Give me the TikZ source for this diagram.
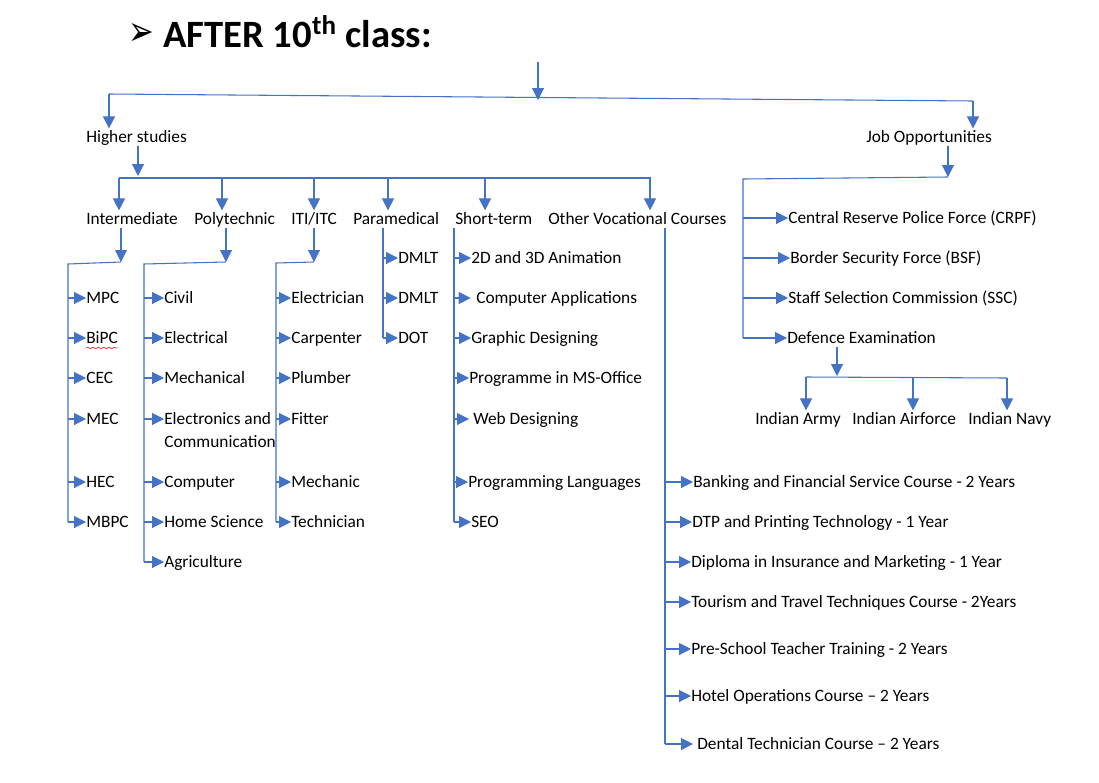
\documentclass[tikz,border=0pt]{standalone}
\usepackage{fontspec}
\setmainfont{Carlito}
\newfontfamily\symfont{DejaVu Sans}
\usepackage{xcolor}
\usetikzlibrary{arrows.meta, decorations.pathmorphing}
\definecolor{wordblue}{HTML}{4472C4}

\begin{document}
\begin{tikzpicture}[x=0.75pt, y=-0.75pt,
    item/.style={anchor=west, inner sep=0pt, text height=10.5pt, text depth=2pt, font=\fontsize{13}{17.25}\selectfont},
    conn/.style={draw=wordblue, line width=0.8pt},
    arr/.style={conn, -{Triangle[length=9pt, width=9pt]}}
]
\path[use as bounding box, fill=white] (0,0) rectangle (1099,782);

% title
\node[anchor=base west, inner sep=0pt, font=\symfont\fontsize{23}{28}\selectfont] (bullet) at (128,45) {\scalebox{1}[1.35]{➢}};
\node[anchor=base west, inner sep=0pt, font=\fontsize{29}{34}\selectfont\bfseries] (title) at (163,47) {AFTER 10\textsuperscript{th} class:};

% first level
\node[item] (hs) at (86,137) {Higher studies};
\node[item] (job) at (866,137) {Job Opportunities};

\coordinate (start) at (538,62);
\coordinate (barL) at (109,94);
\coordinate (barM) at (538,100);
\coordinate (barR) at (973,101);
\draw[conn] (barL) -- (barR);
\draw[arr] (start) -- (barM);
\draw[arr] (barL) -- (barL |- hs.north);
\draw[arr] (barR) -- (barR |- job.north);

% higher studies
\node[item] (inter) at (86,219) {Intermediate};
\node[item] (poly) at (194,219) {Polytechnic};
\node[item] (iti) at (291,219) {ITI/ITC};
\node[item] (para) at (353,219) {Paramedical};
\node[item] (short) at (455,219) {Short-term};
\node[item] (other) at (548,219) {Other Vocational Courses};

\coordinate (hsA) at (138,176);
\coordinate (hbL) at (119,178);
\coordinate (hbR) at (651,178);
\coordinate (k2) at (222,178);
\coordinate (k3) at (314,178);
\coordinate (k4) at (388,178);
\coordinate (k5) at (485,178);
\coordinate (k6) at (650,178);
\draw[arr] (hs.south -| hsA) -- (hsA);
\draw[conn] (hbL) -- (hbR);
\draw[arr] (hbL) -- (hbL |- inter.north);
\draw[arr] (k2) -- (k2 |- poly.north);
\draw[arr] (k3) -- (k3 |- iti.north);
\draw[arr] (k4) -- (k4 |- para.north);
\draw[arr] (k5) -- (k5 |- short.north);
\draw[arr] (k6) -- (k6 |- other.north);

% intermediate
\node[item] (mpc) at (86,298) {MPC};
\node[item] (bipc) at (86,338) {BiPC};
\node[item] (cec) at (86,378) {CEC};
\node[item] (mec) at (86,419) {MEC};
\node[item] (hec) at (86,482) {HEC};
\node[item] (mbpc) at (86,522) {MBPC};
\draw[red, decorate, decoration={snake, segment length=4pt, amplitude=0.6pt}] ([yshift=-1pt]bipc.south west) -- ([yshift=-1pt]bipc.south east);

\coordinate (iA) at (121,262);
\coordinate (iL) at (68,264);
\draw[arr] (inter.south -| iA) -- (iA);
\draw[conn] (iA) -- (iL) -- (iL |- mbpc.west);
\draw[arr] (iL |- mpc.west) -- (mpc.west);
\draw[arr] (iL |- bipc.west) -- (bipc.west);
\draw[arr] (iL |- cec.west) -- (cec.west);
\draw[arr] (iL |- mec.west) -- (mec.west);
\draw[arr] (iL |- hec.west) -- (hec.west);
\draw[arr] (iL |- mbpc.west) -- (mbpc.west);

% polytechnic
\node[item] (civil) at (164,298) {Civil};
\node[item] (elec) at (164,338) {Electrical};
\node[item] (mech) at (164,378) {Mechanical};
\coordinate (ecA) at (164,419);
\node[anchor=base west, inner sep=0pt, align=left, font=\fontsize{13}{17.25}\selectfont] (ec) at (164,447.6) {Electronics and\\Communication};
\node[item] (comp) at (164,482) {Computer};
\node[item] (home) at (164,522) {Home Science};
\node[item] (agri) at (164,562) {Agriculture};

\coordinate (pA) at (226,262);
\coordinate (pL) at (144,264);
\draw[arr] (poly.south -| pA) -- (pA);
\draw[conn] (pA) -- (pL) -- (pL |- agri.west);
\draw[arr] (pL |- civil.west) -- (civil.west);
\draw[arr] (pL |- elec.west) -- (elec.west);
\draw[arr] (pL |- mech.west) -- (mech.west);
\draw[arr] (pL |- ecA) -- (ecA);
\draw[arr] (pL |- comp.west) -- (comp.west);
\draw[arr] (pL |- home.west) -- (home.west);
\draw[arr] (pL |- agri.west) -- (agri.west);

% iti/itc
\node[item] (electrician) at (291,298) {Electrician};
\node[item] (carpenter) at (291,338) {Carpenter};
\node[item] (plumber) at (291,378) {Plumber};
\node[item] (fitter) at (291,419) {Fitter};
\node[item] (mechanic) at (291,482) {Mechanic};
\node[item] (technician) at (291,522) {Technician};

\coordinate (tA) at (314,262);
\coordinate (tL) at (276,263);
\draw[arr] (iti.south -| tA) -- (tA);
\draw[conn] (tA) -- (tL) -- (tL |- technician.west);
\draw[arr] (tL |- electrician.west) -- (electrician.west);
\draw[arr] (tL |- carpenter.west) -- (carpenter.west);
\draw[arr] (tL |- plumber.west) -- (plumber.west);
\draw[arr] (tL |- fitter.west) -- (fitter.west);
\draw[arr] (tL |- mechanic.west) -- (mechanic.west);
\draw[arr] (tL |- technician.west) -- (technician.west);

% paramedical
\node[item] (dmltA) at (398,258) {DMLT};
\node[item] (dmltB) at (398,298) {DMLT};
\node[item] (dot) at (398,338) {DOT};

\coordinate (mL) at (383,226);
\draw[conn] (para.south -| mL) -- (mL |- dot.west);
\draw[arr] (mL |- dmltA.west) -- (dmltA.west);
\draw[arr] (mL |- dmltB.west) -- (dmltB.west);
\draw[arr] (mL |- dot.west) -- (dot.west);

% short-term
\node[item] (anim) at (471,258) {2D and 3D Animation};
\node[item] (compapp) at (476,298) {Computer Applications};
\node[item] (graphic) at (471,338) {Graphic Designing};
\node[item] (msoffice) at (469,378) {Programme in MS-Office};
\node[item] (web) at (473,419) {Web Designing};
\node[item] (proglang) at (468,482) {Programming Languages};
\node[item] (seo) at (471,522) {SEO};

\coordinate (sL) at (454,226);
\draw[conn] (short.south -| sL) -- (sL |- seo.west);
\draw[arr] (sL |- anim.west) -- (anim.west);
\draw[arr] (sL |- compapp.west) -- ([xshift=-4pt]compapp.west);
\draw[arr] (sL |- graphic.west) -- (graphic.west);
\draw[arr] (sL |- msoffice.west) -- (msoffice.west);
\draw[arr] (sL |- web.west) -- ([xshift=-3pt]web.west);
\draw[arr] (sL |- proglang.west) -- (proglang.west);
\draw[arr] (sL |- seo.west) -- (seo.west);

% other vocational courses
\node[item] (bank) at (693,482) {Banking and Financial Service Course - 2 Years};
\node[item] (dtp) at (692,522) {DTP and Printing Technology - 1 Year};
\node[item] (dipl) at (691,562) {Diploma in Insurance and Marketing - 1 Year};
\node[item] (tour) at (691,602) {Tourism and Travel Techniques Course - 2Years};
\node[item] (pre) at (691,649) {Pre-School Teacher Training - 2 Years};
\node[item] (hotel) at (691,696) {Hotel Operations Course -- 2 Years};
\node[item] (dental) at (697,744) {Dental Technician Course -- 2 Years};

\coordinate (oL) at (665,226);
\draw[conn] (other.south -| oL) -- (oL |- dental.west);
\draw[arr] (oL |- bank.west) -- (bank.west);
\draw[arr] (oL |- dtp.west) -- (dtp.west);
\draw[arr] (oL |- dipl.west) -- (dipl.west);
\draw[arr] (oL |- tour.west) -- (tour.west);
\draw[arr] (oL |- pre.west) -- (pre.west);
\draw[arr] (oL |- hotel.west) -- (hotel.west);
\draw[arr] (oL |- dental.west) -- ([xshift=-3pt]dental.west);

% job opportunities
\node[item] (crpf) at (788,218) {Central Reserve Police Force (CRPF)};
\node[item] (bsf) at (790,258) {Border Security Force (BSF)};
\node[item] (ssc) at (788,298) {Staff Selection Commission (SSC)};
\node[item] (def) at (787,338) {Defence Examination};

\coordinate (jA) at (948,177);
\coordinate (jL) at (743,179);
\draw[arr] (job.south -| jA) -- (jA);
\draw[conn] (jA) -- (jL) -- (jL |- def.west);
\draw[arr] (jL |- crpf.west) -- (crpf.west);
\draw[arr] (jL |- bsf.west) -- (bsf.west);
\draw[arr] (jL |- ssc.west) -- (ssc.west);
\draw[arr] (jL |- def.west) -- (def.west);

% defence
\node[item] (army) at (755,419) {Indian Army};
\node[item] (airforce) at (852,419) {Indian Airforce};
\node[item] (navy) at (968,419) {Indian Navy};

\coordinate (dA) at (837,376);
\coordinate (dL) at (806,377);
\coordinate (dM) at (913,377);
\coordinate (dR) at (1007,378);
\draw[arr] (def.south -| dA) -- (dA);
\draw[conn] (dL) -- (dR);
\draw[arr] (dL) -- (dL |- army.north);
\draw[arr] (dM) -- (dM |- airforce.north);
\draw[arr] (dR) -- (dR |- navy.north);
\end{tikzpicture}
\end{document}
